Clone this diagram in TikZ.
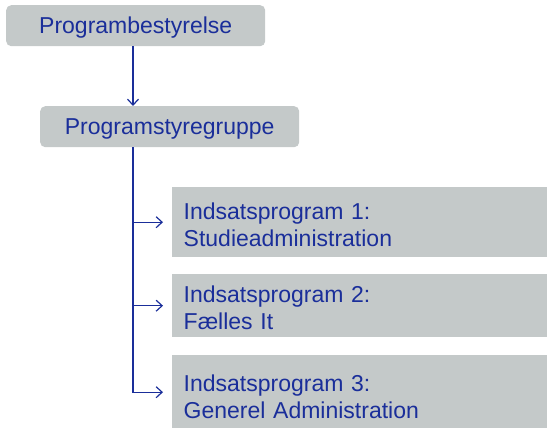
\documentclass[tikz,border=0pt]{standalone}
\usepackage{fontspec}
\setmainfont{Liberation Sans}
\usetikzlibrary{arrows.meta}
\definecolor{boxgray}{HTML}{C4C9C9}
\definecolor{txtblue}{HTML}{1A2E9A}
\begin{document}
\begin{tikzpicture}[x=1pt,y=-1pt,
  box/.style={fill=boxgray, text=txtblue, font=\fontsize{23}{27}\selectfont, inner sep=0pt},
  topbox/.style={box, rounded corners=5pt, minimum width=259pt, minimum height=41pt, text height=19.5pt, text depth=4.5pt, anchor=north west},
  subbox/.style={box, text width=352pt, inner xsep=11.5pt, align=left, anchor=north west},
  conn/.style={draw=txtblue, line width=1.2pt},
  arr/.style={conn, -{Straight Barb[length=6pt,width=11pt,line width=1.2pt]}}
]
\useasboundingbox (0,0) rectangle (547,428);
\node[topbox] (b1) at (6,5) {Programbestyrelse};
\node[topbox] (b2) at (40,106) {Programstyregruppe};
\node[subbox, minimum height=70pt] (b3) at (172,187) {\rule{0pt}{21.8pt}Indsatsprogram 1:\\Studieadministration};
\node[subbox, minimum height=63pt] (b4) at (172,274) {\rule{0pt}{20.8pt}Indsatsprogram 2:\\Fælles It};
\node[subbox, minimum height=74pt] (b5) at (172,355) {\rule{0pt}{25pt}Indsatsprogram 3:\\Generel Administration};
\coordinate (trunk) at (133,0);
\draw[arr] (b1.south -| trunk) -- (b2.north -| trunk);
\draw[arr, shorten >=9pt] (b2.south -| trunk) |- (b3.west);
\draw[arr, shorten >=9pt] (b2.south -| trunk) |- (b4.west);
\draw[arr, shorten >=9pt] (b2.south -| trunk) |- (b5.west);
\end{tikzpicture}
\end{document}
